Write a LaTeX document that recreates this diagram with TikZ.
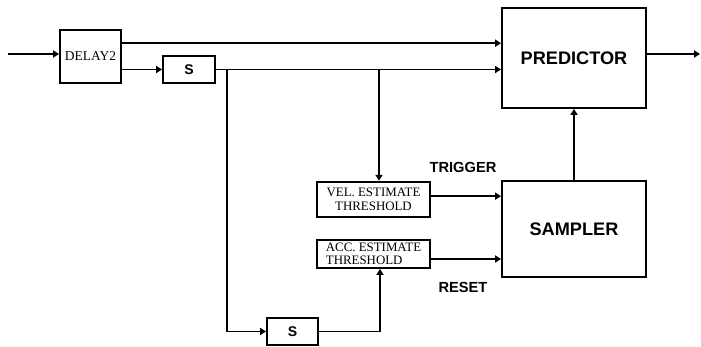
\documentclass[tikz,border=0pt]{standalone}
\usepackage{fontspec}
\setmainfont{Liberation Serif}
\newfontfamily\labelfont{Liberation Sans}
\usetikzlibrary{arrows.meta}

\begin{document}
\begin{tikzpicture}[
  x=0.03cm, y=-0.03cm,
  block/.style  = {draw, line width=1.7pt, inner sep=2pt},
  bigblock/.style = {block, minimum width=4.32cm, font=\labelfont\bfseries\fontsize{15.5}{17}\selectfont},
  sblock/.style = {block, minimum height=0.82cm, font=\labelfont\bfseries\fontsize{12}{14}\selectfont},
  thr/.style    = {block, minimum width=3.39cm, font=\fontsize{11}{11.5}\selectfont},
  arrow/.style  = {line width=1.7pt, -{Triangle[length=5pt,width=6pt]}},
  tag/.style    = {font=\labelfont\bfseries\fontsize{12.5}{14}\selectfont},
]
  \useasboundingbox (0,0) rectangle (701,347);

  \coordinate (in) at (8,54);
  \coordinate (out) at (700,54);
  \node[block, minimum width=1.83cm, minimum height=1.59cm, font=\fontsize{11.5}{12}\selectfont] (delay) at (90.5,56.5) {DELAY2};
  \node[sblock, minimum width=1.56cm] (s1) at (189,69.5) {S};
  \node[sblock, minimum width=1.53cm] (s2) at (292.5,331.5) {S};
  \node[bigblock, minimum height=3.0cm] (pred) at (574,58) {PREDICTOR};
  \node[bigblock, minimum height=2.88cm] (samp) at (574,229) {SAMPLER};
  \node[thr, minimum height=1.07cm, align=center] (vel) at (373.5,199.5) {VEL. ESTIMATE\\ THRESHOLD};
  \node[thr, minimum height=0.84cm, align=left] (acc) at (373.5,254) {ACC. ESTIMATE\\THRESHOLD};

  % branch points on the line out of the first S
  \coordinate (tap1) at (227,69.5);
  \coordinate (tap2) at (379,69.5);
  \coordinate (up) at (380,331.5);

  \draw[arrow] (in) -- (delay.west |- in);
  \draw[arrow] ([yshift=0.4cm]delay.east) -- ([yshift=0.4cm]delay.east -| pred.west);
  \draw[arrow] (delay.east |- s1) -- (s1.west);
  \draw[arrow] (s1.east) -- (s1 -| pred.west);
  \draw[arrow] (pred.east |- out) -- (out);
  \draw[arrow] (tap2) -- (tap2 |- vel.north);
  \draw[arrow] (tap1) |- (s2.west);
  \draw[arrow] (s2.east) -| (up |- acc.south);
  \draw[arrow] ([yshift=0.1cm]vel.east) -- ([yshift=0.1cm]vel.east -| samp.west);
  \draw[arrow] ([yshift=-0.15cm]acc.east) -- ([yshift=-0.15cm]acc.east -| samp.west);
  \draw[arrow] (samp.north) -- (pred.south);

  \node[tag] (trig) at (463,167) {TRIGGER};
  \node[tag] (rst) at (463,287) {RESET};
\end{tikzpicture}
\end{document}
